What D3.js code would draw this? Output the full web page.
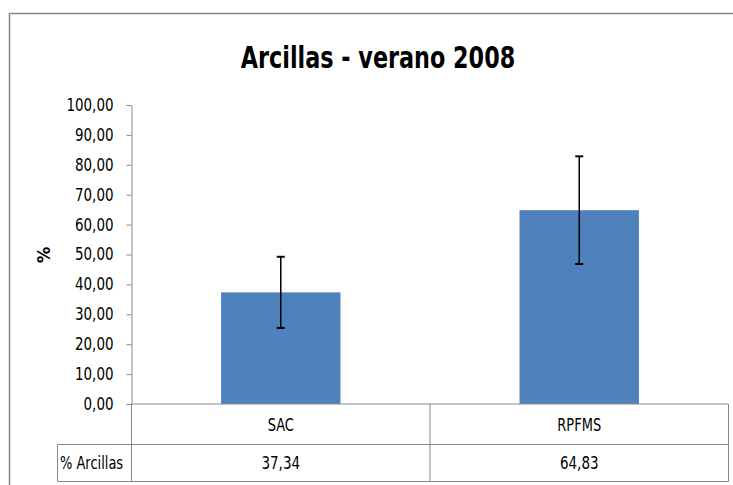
<html lang="es">
<head>
    <meta charset="utf-8">
    <title>Arcillas - verano 2008</title>
    <script src="https://cdn.jsdelivr.net/npm/d3@7"></script>
    <style>
        body { margin: 0; background: #fff; }
        text { font-family: "DejaVu Sans Condensed", "Liberation Sans", sans-serif; fill: #000; }
    </style>
</head>
<body>
<script>
    // data
    const categories = ["SAC", "RPFMS"];
    const values = [37.34, 64.83];
    const errors = [11.9, 18.0];
    const seriesName = "% Arcillas";
    const yTicks = [0, 10, 20, 30, 40, 50, 60, 70, 80, 90, 100];

    const W = 733, H = 485;
    const plot = {left: 131.5, right: 728.5, top: 105, bottom: 404};
    const rowY = 444.5, tableBottom = 481.5, tableLeft = 57.5;
    const gray = "#898989";

    // narrow the fallback font so it sits like the original Calibri
    function condense(sel, k) {
        sel.each(function () {
            const w = this.getComputedTextLength();
            d3.select(this).attr("textLength", w * k).attr("lengthAdjust", "spacingAndGlyphs");
        });
    }

    const svg = d3.select("body").append("svg")
        .attr("width", W).attr("height", H);

    // outer chart frame (runs off the right and bottom edges)
    svg.append("rect")
        .attr("x", 9.5).attr("y", 13.5)
        .attr("width", 760).attr("height", 520)
        .attr("fill", "none").attr("stroke", gray).attr("stroke-width", 1.5);

    svg.append("text")
        .attr("x", 378).attr("y", 68)
        .attr("text-anchor", "middle")
        .style("font-size", "31px").style("font-weight", "bold")
        .text("Arcillas - verano 2008")
        .call(condense, 0.8);

    const y = d3.scaleLinear().domain([0, 100]).range([plot.bottom, plot.top]);
    const x = d3.scaleBand().domain(categories).range([plot.left, plot.right])
        .paddingInner(0).paddingOuter(0);
    const barW = x.bandwidth() / 2.5;

    const fmt = v => d3.format(".2f")(v).replace(".", ",");

    const yAxis = svg.append("g")
        .attr("transform", `translate(${plot.left},0)`)
        .call(d3.axisLeft(y).tickValues(yTicks).tickFormat(fmt).tickSize(5).tickSizeOuter(0).tickPadding(13));
    yAxis.select(".domain").attr("stroke", gray);
    yAxis.selectAll(".tick line").attr("stroke", gray);
    yAxis.selectAll(".tick text")
        .style("font-size", "17px").attr("font-family", null).attr("fill", "#000")
        .call(condense, 0.88);

    svg.append("text")
        .attr("transform", "translate(50,255) rotate(-90)")
        .attr("text-anchor", "middle")
        .style("font-size", "18px").style("font-weight", "bold")
        .text("%");

    // bars
    svg.selectAll("rect.bar").data(values).join("rect")
        .attr("class", "bar")
        .attr("x", (d, i) => x(categories[i]) + (x.bandwidth() - barW) / 2)
        .attr("width", barW)
        .attr("y", d => y(d))
        .attr("height", d => y(0) - y(d))
        .attr("fill", "#4F81BD");

    // error bars
    const eb = svg.selectAll("g.err").data(values).join("g")
        .attr("class", "err")
        .attr("transform", (d, i) => `translate(${x(categories[i]) + x.bandwidth() / 2},0)`);
    eb.append("line")
        .attr("y1", (d, i) => y(d + errors[i])).attr("y2", (d, i) => y(d - errors[i]))
        .attr("stroke", "#000").attr("stroke-width", 1.5);
    eb.append("line")
        .attr("x1", -4).attr("x2", 4)
        .attr("y1", (d, i) => y(d + errors[i])).attr("y2", (d, i) => y(d + errors[i]))
        .attr("stroke", "#000").attr("stroke-width", 2);
    eb.append("line")
        .attr("x1", -4).attr("x2", 4)
        .attr("y1", (d, i) => y(d - errors[i])).attr("y2", (d, i) => y(d - errors[i]))
        .attr("stroke", "#000").attr("stroke-width", 2);

    // data table
    const t = svg.append("g").attr("stroke", gray).attr("stroke-width", 1);
    t.append("line").attr("x1", plot.left).attr("x2", plot.right).attr("y1", plot.bottom).attr("y2", plot.bottom);
    t.append("line").attr("x1", tableLeft).attr("x2", plot.right).attr("y1", rowY).attr("y2", rowY);
    t.append("line").attr("x1", tableLeft).attr("x2", plot.right).attr("y1", tableBottom).attr("y2", tableBottom);
    t.append("line").attr("x1", tableLeft).attr("x2", tableLeft).attr("y1", rowY).attr("y2", tableBottom);
    const edges = [plot.left].concat(categories.map(c => x(c) + x.bandwidth()));
    t.selectAll("line.v").data(edges).join("line")
        .attr("class", "v")
        .attr("x1", d => d).attr("x2", d => d)
        .attr("y1", plot.bottom).attr("y2", tableBottom);

    svg.selectAll("text.cat").data(categories).join("text")
        .attr("class", "cat")
        .attr("x", d => x(d) + x.bandwidth() / 2).attr("y", 431)
        .attr("text-anchor", "middle").style("font-size", "17px")
        .text(d => d)
        .call(condense, 0.85);
    svg.selectAll("text.val").data(values).join("text")
        .attr("class", "val")
        .attr("x", (d, i) => x(categories[i]) + x.bandwidth() / 2).attr("y", 469)
        .attr("text-anchor", "middle").style("font-size", "17px")
        .text(d => fmt(d))
        .call(condense, 0.88);
    svg.append("text")
        .attr("x", 60).attr("y", 469)
        .style("font-size", "17px")
        .text(seriesName)
        .call(condense, 0.85);
</script>
</body>
</html>
